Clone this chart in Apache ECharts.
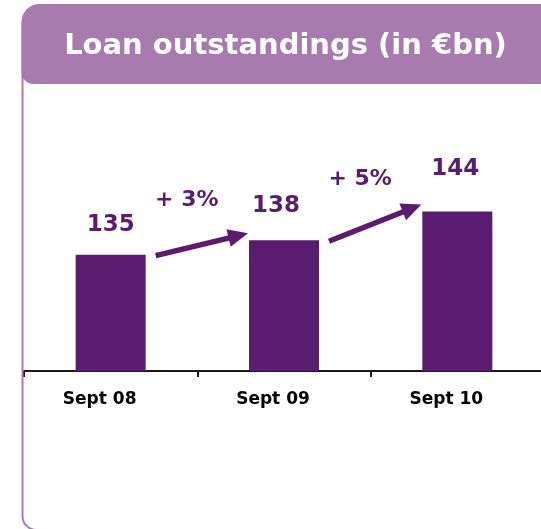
<!DOCTYPE html>
<html>
<head>
<meta charset="utf-8">
<script src="https://cdn.jsdelivr.net/npm/echarts@6/dist/echarts.min.js"></script>
<style>
html,body{margin:0;padding:0;background:#fff;}
#c{width:541px;height:529px;}
</style>
</head>
<body>
<div id="c"></div>
<script>
var titleText = 'Loan outstandings (in €bn)';
var categories = ['Sept 08', 'Sept 09', 'Sept 10'];
var values = [135, 138, 144];
var growthLabels = ['+ 3%', '+ 5%'];

var PURPLE = '#5A1C6E';
var FRAME = '#A77BAE';
var FONT = 'DejaVu Sans';

var labelAdjust = [[0, 0], [-8, -4], [-2, -13]];

var chart = echarts.init(document.getElementById('c'), null, {renderer: 'canvas'});

var option = {
  animation: false,
  backgroundColor: '#fff',
  grid: {left: 24, width: 520, top: 135, bottom: 158, containLabel: false, outerBoundsMode: 'none'},
  xAxis: {
    type: 'category',
    data: categories,
    axisLine: {show: true, lineStyle: {color: '#1a1a1a', width: 2}},
    axisTick: {show: true, length: 6, lineStyle: {color: '#1a1a1a', width: 2}},
    axisLabel: {
      color: '#000', fontFamily: FONT, fontWeight: 'bold', fontSize: 17,
      margin: 19, lineHeight: 20,
      padding: [0, 22, 0, 0]
    },
    splitLine: {show: false}
  },
  yAxis: {
    type: 'value', min: 110.7, max: 160, show: false,
    splitLine: {show: false}
  },
  series: [{
    type: 'bar',
    barWidth: 70,
    itemStyle: {color: PURPLE},
    data: values.map(function (v, i) {
      return {
        value: v,
        label: {offset: labelAdjust[i]}
      };
    }),
    label: {
      show: true, position: 'top', distance: 16,
      color: PURPLE, fontFamily: FONT, fontWeight: 'bold', fontSize: 23, lineHeight: 28
    }
  }],
  graphic: [
    {
      id: 'frame', type: 'rect', z: 1, silent: true,
      shape: {x: 22.5, y: 10, width: 600, height: 520, r: 14},
      style: {fill: 'none', stroke: FRAME, lineWidth: 2}
    },
    {
      id: 'titleBox', type: 'rect', z: 2, silent: true,
      shape: {x: 21.5, y: 4, width: 620, height: 80, r: [18, 0, 0, 12]},
      style: {fill: FRAME}
    },
    {
      id: 'titleText', type: 'text', z: 3, silent: true,
      style: {
        x: 285.5, y: 46, text: titleText, align: 'center', verticalAlign: 'middle',
        fill: '#fff', font: 'bold 29px "DejaVu Sans"'
      }
    }
  ]
};
chart.setOption(option);

// growth arrows, positioned from the bars through the chart's own scales
var half = 35;
var extra = [];
for (var i = 0; i < values.length - 1; i++) {
  var p0 = chart.convertToPixel({seriesIndex: 0}, [i, values[i]]);
  var p1 = chart.convertToPixel({seriesIndex: 0}, [i + 1, values[i + 1]]);
  var sx = p0[0] + half + 10, sy = p0[1] + 1;
  var ex = p1[0] - half - 1, ey = p1[1] - 7;
  var ang = Math.atan2(ey - sy, ex - sx);
  var hl = 20, hw = 9;
  var bx = ex - hl * Math.cos(ang), by = ey - hl * Math.sin(ang);
  var nx = -Math.sin(ang), ny = Math.cos(ang);
  extra.push({
    id: 'arrowLine' + i, type: 'line', z: 5, silent: true,
    shape: {x1: sx, y1: sy, x2: bx + 2 * Math.cos(ang), y2: by + 2 * Math.sin(ang)},
    style: {stroke: PURPLE, lineWidth: 5.5}
  });
  extra.push({
    id: 'arrowHead' + i, type: 'polygon', z: 5, silent: true,
    shape: {points: [[ex, ey], [bx + nx * hw, by + ny * hw], [bx - nx * hw, by - ny * hw]]},
    style: {fill: PURPLE}
  });
  extra.push({
    id: 'growth' + i, type: 'text', z: 5, silent: true,
    style: {
      x: (sx + ex) / 2 - 15, y: (sy + ey) / 2 - 44, text: growthLabels[i],
      align: 'center', verticalAlign: 'middle',
      fill: PURPLE, font: 'bold 22px "DejaVu Sans"'
    }
  });
}
chart.setOption({graphic: extra});
</script>
</body>
</html>
